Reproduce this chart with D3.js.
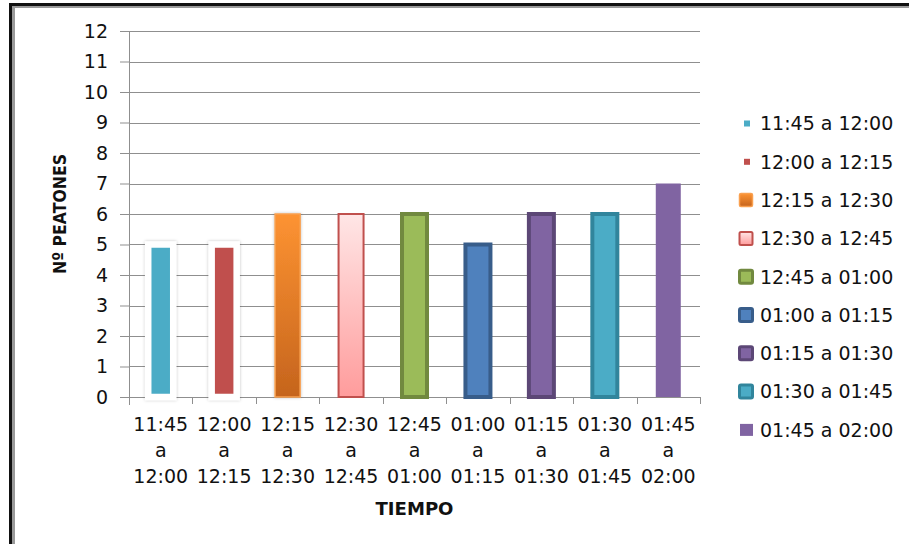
<!DOCTYPE html>
<html>
<head>
<meta charset="utf-8">
<script src="https://cdn.jsdelivr.net/npm/d3@7"></script>
<style>
  html, body { margin: 0; padding: 0; background: #ffffff; }
  svg { display: block; }
  text { font-family: "DejaVu Sans", sans-serif; fill: #111; }
</style>
</head>
<body>
<svg id="chart" width="909" height="544"></svg>
<script>
// Pedestrian counts per 15-minute interval
const categories = [
  "11:45 a 12:00", "12:00 a 12:15", "12:15 a 12:30", "12:30 a 12:45",
  "12:45 a 01:00", "01:00 a 01:15", "01:15 a 01:30", "01:30 a 01:45",
  "01:45 a 02:00"
];
const peatones = [5, 5, 6, 6, 6, 5, 6, 6, 7];
const yTicks = [0, 1, 2, 3, 4, 5, 6, 7, 8, 9, 10, 11, 12];

// Per-series appearance
const fills   = ["#4BACC6", "#C0504D", "url(#gOrange)", "url(#gPink)", "#9BBB59",
                 "#4F81BD", "#8064A2", "#4BACC6", "#8064A2"];
const strokes = ["#ffffff", "#ffffff", "#F9A04F", "#C0504D", "#71893F",
                 "#385D8A", "#5C4776", "#31859C", "none"];
const strokeW = [6.5, 6.5, 1.5, 2, 4, 4, 4, 4, 0];
const legendMark = ["small", "small", "box", "box", "box", "box", "box", "box", "plain"];

const svg = d3.select("#chart");
const defs = svg.append("defs");

const gO = defs.append("linearGradient").attr("id", "gOrange").attr("x1", 0).attr("y1", 0).attr("x2", 0).attr("y2", 1);
gO.append("stop").attr("offset", "0%").attr("stop-color", "#FD9332");
gO.append("stop").attr("offset", "100%").attr("stop-color", "#C5641D");
const gP = defs.append("linearGradient").attr("id", "gPink").attr("x1", 0).attr("y1", 0).attr("x2", 0).attr("y2", 1);
gP.append("stop").attr("offset", "0%").attr("stop-color", "#FFE6E6");
gP.append("stop").attr("offset", "100%").attr("stop-color", "#FF9C9C");

const shadow = defs.append("filter").attr("id", "soft").attr("x", "-40%").attr("y", "-20%").attr("width", "180%").attr("height", "140%");
shadow.append("feDropShadow").attr("dx", 0).attr("dy", 0).attr("stdDeviation", 1.8)
  .attr("flood-color", "#000").attr("flood-opacity", 0.25);

// Frame
svg.append("rect").attr("x", 9).attr("y", 3).attr("width", 900).attr("height", 3).attr("fill", "#111");
svg.append("rect").attr("x", 12).attr("y", 6).attr("width", 897).attr("height", 2).attr("fill", "#9a9a9a");
svg.append("rect").attr("x", 9).attr("y", 3).attr("width", 3).attr("height", 541).attr("fill", "#111");
svg.append("rect").attr("x", 12).attr("y", 6).attr("width", 3).attr("height", 538).attr("fill", "#9a9a9a");

const plot = { left: 129, right: 700, top: 31, bottom: 397 };

const x = d3.scaleBand().domain(categories).range([plot.left, plot.right]).padding(0);
const y = d3.scaleLinear().domain([0, 12]).range([plot.bottom, plot.top]);

const gridColor = "#8f8f8f";

// Left tick marks and value labels
const yAxis = d3.axisLeft(y).tickValues(yTicks).tickSize(9).tickPadding(12).tickFormat(d3.format("d"));
const yg = svg.append("g").attr("transform", `translate(${plot.left},0)`).call(yAxis);
yg.select(".domain").remove();
yg.selectAll(".tick line").attr("stroke", gridColor);
yg.selectAll(".tick text").style("font-size", "19px").attr("fill", "#111");

// Horizontal gridlines
svg.append("g").selectAll("line").data(yTicks).join("line")
  .attr("x1", plot.left).attr("x2", plot.right)
  .attr("y1", d => Math.round(y(d)) + 0.5).attr("y2", d => Math.round(y(d)) + 0.5)
  .attr("stroke", gridColor).attr("stroke-width", 1);

// Vertical axis line
svg.append("line").attr("x1", plot.left + 0.5).attr("x2", plot.left + 0.5)
  .attr("y1", plot.top).attr("y2", plot.bottom + 8).attr("stroke", gridColor);

// Category boundary ticks below the axis
const bounds = categories.map(c => x(c)).concat([plot.right]);
svg.append("g").selectAll("line").data(bounds).join("line")
  .attr("x1", d => Math.round(d) + 0.5).attr("x2", d => Math.round(d) + 0.5)
  .attr("y1", plot.bottom).attr("y2", plot.bottom + 7)
  .attr("stroke", gridColor);

// Bars
const barW = 25;
svg.append("g").selectAll("rect").data(peatones).join("rect")
  .attr("x", (d, i) => x(categories[i]) + x.bandwidth() / 2 - barW / 2)
  .attr("y", d => y(d))
  .attr("width", barW)
  .attr("height", d => y(0) - y(d))
  .attr("fill", (d, i) => fills[i])
  .attr("stroke", (d, i) => strokes[i])
  .attr("stroke-width", (d, i) => strokeW[i])
  .attr("filter", (d, i) => (i < 3 ? "url(#soft)" : null));

// Category labels (three lines each)
const xl = svg.append("g");
categories.forEach(c => {
  const parts = c.split(" ");
  const cx = x(c) + x.bandwidth() / 2;
  const t = xl.append("text")
    .attr("x", cx)
    .attr("y", 431)
    .attr("text-anchor", "middle")
    .style("font-size", "19px");
  parts.forEach((p, k) => {
    t.append("tspan").attr("x", cx).attr("dy", k === 0 ? 0 : 26).text(p);
  });
});

// Axis titles
svg.append("text").attr("x", (plot.left + plot.right) / 2).attr("y", 515)
  .attr("text-anchor", "middle").style("font-size", "17px").style("font-weight", "bold")
  .attr("textLength", 78).attr("lengthAdjust", "spacingAndGlyphs")
  .text("TIEMPO");
svg.append("text")
  .attr("transform", `translate(65.5,${(plot.top + plot.bottom) / 2}) rotate(-90)`)
  .attr("text-anchor", "middle").style("font-size", "18px").style("font-weight", "bold")
  .attr("textLength", 120).attr("lengthAdjust", "spacingAndGlyphs")
  .text("Nº PEATONES");

// Legend
const legY0 = 123.5, legStep = 38.3;
const leg = svg.append("g");
categories.forEach((c, i) => {
  const cy = legY0 + i * legStep;
  const kind = legendMark[i];
  if (kind === "small") {
    leg.append("rect").attr("x", 744).attr("y", cy - 3).attr("width", 6).attr("height", 6)
      .attr("fill", fills[i]);
  } else if (kind === "box") {
    leg.append("rect").attr("x", 739.5).attr("y", cy - 6.5).attr("width", 13).attr("height", 13)
      .attr("rx", 1.5)
      .attr("fill", fills[i]).attr("stroke", strokes[i])
      .attr("stroke-width", Math.min(strokeW[i], 3));
  } else {
    leg.append("rect").attr("x", 740).attr("y", cy - 6).attr("width", 13).attr("height", 12)
      .attr("fill", fills[i]);
  }
  leg.append("text").attr("x", 760).attr("y", cy).attr("dy", "0.36em")
    .style("font-size", "19px").text(c);
});
</script>
</body>
</html>
